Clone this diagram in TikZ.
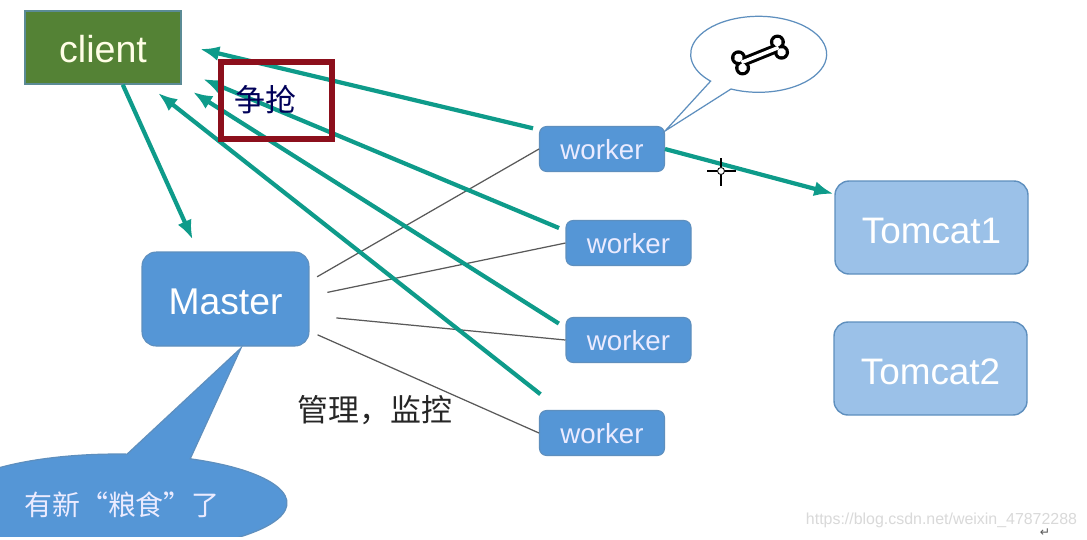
\documentclass[tikz,border=0pt]{standalone}
\usepackage{fontspec}
\setmainfont{Liberation Sans}
\newfontfamily\cjk{Noto Sans CJK SC}
\newfontfamily\dejavu{DejaVu Sans}
\usepackage{tikz}
\usetikzlibrary{arrows.meta}
\definecolor{clientgreen}{HTML}{548235}
\definecolor{boxblue}{HTML}{5596D6}
\definecolor{lightblue}{HTML}{9BC1E8}
\definecolor{edgeblue}{HTML}{5E8FBE}
\definecolor{grabteal}{HTML}{0E9B8A}
\definecolor{framered}{HTML}{8C0F1C}
\tikzset{
  clientbox/.style={draw=edgeblue!70!clientgreen,line width=0.8pt,fill=clientgreen,text=white!90!yellow,minimum width=3.12cm,minimum height=1.46cm,inner sep=0pt,text height=17.5pt,font=\fontsize{21.4}{24}\selectfont},
  workerbox/.style={draw=edgeblue,line width=0.6pt,fill=boxblue,text=blue!8!white,rounded corners=4pt,minimum width=2.5cm,minimum height=0.9cm,inner sep=0pt,text height=12.6pt,font=\fontsize{15.75}{18}\selectfont},
  masterbox/.style={workerbox,text=white,rounded corners=8pt,minimum width=3.34cm,minimum height=1.88cm,text height=17.8pt,font=\fontsize{21.2}{24}\selectfont},
  tomcatbox/.style={draw=edgeblue,line width=0.8pt,fill=lightblue,text=white,rounded corners=8pt,minimum width=3.86cm,minimum height=1.86cm,inner sep=0pt,text height=18.5pt,font=\fontsize{21}{24}\selectfont},
  grabline/.style={draw=grabteal,line width=2.4pt,-{Latex[length=11pt,width=8.5pt]}},
  thinline/.style={draw=black!65,line width=0.7pt},
  cjklabel/.style={inner sep=0pt,font=\cjk\fontsize{17.6}{20}\selectfont}
}
\begin{document}
\begin{tikzpicture}[x=0.02cm,y=-0.02cm]
\useasboundingbox (0,0) rectangle (1087,539);
\fill[white] (0,0) rectangle (1087,539);

\node[clientbox] (client) at (103,47.5) {client};
\node[masterbox] (master) at (225.5,299) {Master};
\node[workerbox] (worker1) at (602,149) {worker};
\node[workerbox] (worker2) at (628.5,243) {worker};
\node[workerbox] (worker3) at (628.5,340) {worker};
\node[workerbox] (worker4) at (602,433) {worker};
\node[tomcatbox] (tomcat1) at (931.5,227.5) {Tomcat1};
\node[tomcatbox] (tomcat2) at (930.5,368.5) {Tomcat2};

\coordinate (tipa) at (200,49);
\coordinate (tipb) at (203,79);
\coordinate (tipc) at (193,92);
\coordinate (tipd) at (158,93);

\draw[thinline,shorten <=5pt] (master.12) -- (worker1.west);
\draw[thinline,shorten <=10.4pt] (master.2) -- (worker2.west);
\draw[thinline,shorten <=15.4pt] (master.-11) -- (worker3.west);
\draw[thinline,shorten <=5pt] (master.-21) -- (worker4.west);

\draw[grabline,shorten <=3.5pt] (worker1.163) -- (tipa);
\draw[grabline,shorten <=4pt] (worker2.169) -- (tipb);
\draw[grabline,shorten <=4.5pt] (worker3.169) -- (tipc);
\draw[grabline,shorten <=14.5pt] (worker4.151) -- (tipd);
\draw[grabline,shorten >=7.5pt] (client.-62) -- (master.120);
\draw[grabline,shorten >=0.5pt] (worker1.east) -- (tomcat1.161);

\draw[framered,line width=3.4pt] (221,62) rectangle (332,139);
\node[cjklabel,text=blue!35!black] (grab) at (265,99.5) {争抢};
\node[cjklabel,text=black!85] (manage) at (375,410) {管理，监控};

\draw[edgeblue,line width=0.7pt,fill=white] (731,89) arc[start angle=246,end angle=585,x radius=1.36cm,y radius=0.76cm] -- (665,131) -- cycle;
\begin{scope}[shift={(760,55)},rotate=22]
\foreach \bonesize/\bonecolor in {1/black,0/white}{
  \fill[\bonecolor] (-20,{-1.8-3*\bonesize}) rectangle (20,{1.8+3*\bonesize});
  \foreach \bonex in {-21,21}{
    \foreach \boney in {-5.5,5.5}{
      \fill[\bonecolor] (\bonex,\boney) circle ({(4.3+3.2*\bonesize)*0.02cm});
    }
  }
}
\end{scope}

\begin{scope}
\clip (0,0) rectangle (1087,536);
\draw[edgeblue,line width=0.7pt,fill=boxblue] (190.2,458.8) arc[start angle=64.5,end angle=-273.4,x radius=3.4cm,y radius=0.98cm] -- (241,348) -- cycle;
\end{scope}
\node[cjklabel,text=blue!8!white,font=\cjk\fontsize{15.9}{18}\selectfont] (grain) at (122,505) {有新“粮食”了};

\draw[black,line width=0.6pt] (721,158) -- (721,167) (721,175) -- (721,186) (707,171) -- (717,171) (725,171) -- (736,171);
\draw[black,line width=0.5pt] (721,171) circle (0.07cm);

\node[text=black!15,inner sep=0pt,font=\fontsize{9.07}{10}\selectfont] (mark) at (941.5,520) {https://blog.csdn.net/weixin\_47872288};
\node[text=black!65,inner sep=0pt,font=\dejavu\fontsize{7}{8}\selectfont] (enter) at (1045,533) {↵};
\end{tikzpicture}
\end{document}
